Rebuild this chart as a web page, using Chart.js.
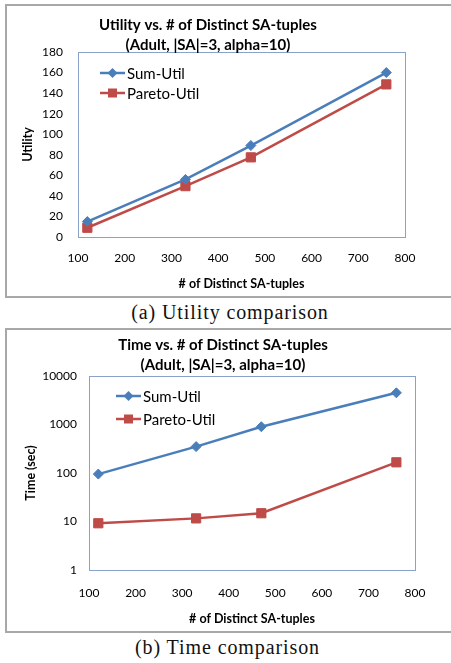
<!DOCTYPE html>
<html>
<head>
<meta charset="utf-8">
<script src="https://cdn.jsdelivr.net/npm/chart.js@4/dist/chart.umd.min.js"></script>
<style>
  body { margin: 0; background: #fff; width: 451px; height: 663px; overflow: hidden; position: relative; }
  .frame { position: absolute; left: 5px; width: 460px; border: 2px solid #a8a8a8; border-right: none; box-sizing: border-box; }
  canvas { position: absolute; left: 0; }
  .cap { position: absolute; left: 0; text-align: center; font-family: "Liberation Serif", serif; font-size: 20px; letter-spacing: 0.9px; line-height: 22px; color: #111; }
</style>
</head>
<body>
<div class="frame" style="top:4px;height:294px"></div>
<div class="frame" style="top:328px;height:305px"></div>
<canvas id="utilChart" width="451" height="300" style="top:0"></canvas>
<canvas id="timeChart" width="451" height="310" style="top:325px"></canvas>
<div class="cap" style="top:301px;width:460px">(a) Utility comparison</div>
<div class="cap" style="top:636px;width:455px">(b) Time comparison</div>
<script>
var tupleCounts = [120, 330, 470, 760];
var sumUtil = [15, 56, 89, 160];
var paretoUtil = [9, 49.5, 77.5, 148.5];
var sumTime = [95, 350, 900, 4500];
var paretoTime = [9.2, 11.6, 14.8, 166];
var timeTicks = [1, 10, 100, 1000, 10000];

var BLUE = '#4a7ebb';
var RED = '#be4b48';
var FONT = 'Lato, "Open Sans", sans-serif';

function points(ys) {
    return tupleCounts.map(function(x, i) { return { x: x, y: ys[i] }; });
}

function makeDatasets(sumData, paretoData) {
    return [
        {
            label: 'Sum-Util',
            data: points(sumData),
            borderColor: BLUE,
            backgroundColor: BLUE,
            borderWidth: 2.5,
            pointStyle: 'rectRot',
            pointRadius: 5,
            pointBorderWidth: 1,
            pointBackgroundColor: BLUE,
            pointBorderColor: BLUE
        },
        {
            label: 'Pareto-Util',
            data: points(paretoData),
            borderColor: RED,
            backgroundColor: RED,
            borderWidth: 2.5,
            pointStyle: 'rect',
            pointRadius: 6.5,
            pointBorderWidth: 1,
            pointBackgroundColor: RED,
            pointBorderColor: RED
        }
    ];
}

// plot border, title lines and in-plot legend
var framePlugin = {
    id: 'frame',
    beforeDatasetsDraw: function(chart) {
        var a = chart.chartArea, ctx = chart.ctx;
        ctx.save();
        ctx.strokeStyle = '#8aa2c8';
        ctx.lineWidth = 1;
        ctx.strokeRect(Math.round(a.left) + 0.5, Math.round(a.top) + 0.5,
            Math.round(a.right - a.left), Math.round(a.bottom - a.top));
        ctx.restore();
    },
    afterDraw: function(chart, args, opts) {
        var ctx = chart.ctx;
        ctx.save();
        ctx.fillStyle = '#000';
        ctx.font = 'bold 15px ' + FONT;
        ctx.textAlign = 'center';
        ctx.textBaseline = 'middle';
        opts.title.forEach(function(t, i) {
            ctx.fillText(t, opts.titleX, opts.titleY[i]);
        });
        chart.data.datasets.forEach(function(ds, i) {
            var x = opts.legendX, y = opts.legendY[i];
            ctx.strokeStyle = ds.borderColor;
            ctx.lineWidth = 2.5;
            ctx.beginPath();
            ctx.moveTo(x, y);
            ctx.lineTo(x + 25, y);
            ctx.stroke();
            ctx.fillStyle = ds.borderColor;
            var cx = x + 12.5;
            ctx.beginPath();
            if (ds.pointStyle === 'rectRot') {
                ctx.moveTo(cx, y - 5); ctx.lineTo(cx + 5, y); ctx.lineTo(cx, y + 5); ctx.lineTo(cx - 5, y);
            } else {
                ctx.rect(cx - 4.5, y - 4.5, 9, 9);
            }
            ctx.closePath();
            ctx.fill();
            ctx.fillStyle = '#000';
            ctx.font = '15px ' + FONT;
            ctx.textAlign = 'left';
            ctx.fillText(ds.label, x + 27, y + 1);
        });
        ctx.restore();
    }
};

function baseX(pad, height) {
    return {
        type: 'linear',
        min: 100,
        max: 800,
        ticks: { stepSize: 100, padding: pad, color: '#000', font: { family: FONT, size: 12 } },
        grid: { display: false, drawTicks: false },
        border: { display: false },
        title: { display: true, text: '# of Distinct SA-tuples', color: '#000', padding: 0,
                 font: { family: FONT, size: 12.5, weight: 'bold' } },
        afterFit: function(scale) { scale.height = height; }
    };
}

new Chart(document.getElementById('utilChart'), {
    type: 'line',
    data: { datasets: makeDatasets(sumUtil, paretoUtil) },
    options: {
        responsive: false,
        animation: false,
        layout: { padding: { left: 20, right: 46, top: 52, bottom: 9 } },
        plugins: {
            legend: { display: false },
            tooltip: { enabled: false },
            frame: {
                title: ['Utility vs. # of Distinct SA-tuples', '(Adult, |SA|=3, alpha=10)'],
                titleX: 208, titleY: [25, 45],
                legendX: 100, legendY: [73, 93]
            }
        },
        scales: {
            x: baseX(14, 54),
            y: {
                min: 0,
                max: 180,
                ticks: { stepSize: 20, padding: 15, color: '#000', font: { family: FONT, size: 12 } },
                grid: { display: false, drawTicks: false },
                border: { display: false },
                title: { display: true, text: 'Utility', color: '#000', padding: 0,
                         font: { family: FONT, size: 12.5, weight: 'bold' } },
                afterFit: function(scale) { scale.width = 58; }
            }
        }
    },
    plugins: [framePlugin]
});

new Chart(document.getElementById('timeChart'), {
    type: 'line',
    data: { datasets: makeDatasets(sumTime, paretoTime) },
    options: {
        responsive: false,
        animation: false,
        layout: { padding: { left: 23, right: 36, top: 51, bottom: 9 } },
        plugins: {
            legend: { display: false },
            tooltip: { enabled: false },
            frame: {
                title: ['Time vs. # of Distinct SA-tuples', '(Adult, |SA|=3, alpha=10)'],
                titleX: 223, titleY: [20, 40],
                legendX: 116, legendY: [71, 94]
            }
        },
        scales: {
            x: baseX(16, 56),
            y: {
                type: 'logarithmic',
                min: 1,
                max: 10000,
                afterBuildTicks: function(scale) {
                    scale.ticks = timeTicks.map(function(v) { return { value: v }; });
                },
                ticks: {
                    padding: 12, color: '#000', font: { family: FONT, size: 12 },
                    callback: function(value) { return String(value); }
                },
                grid: { display: false, drawTicks: false },
                border: { display: false },
                title: { display: true, text: 'Time (sec)', color: '#000', padding: 0,
                         font: { family: FONT, size: 12.5, weight: 'bold' } },
                afterFit: function(scale) { scale.width = 66; }
            }
        }
    },
    plugins: [framePlugin]
});
</script>
</body>
</html>
